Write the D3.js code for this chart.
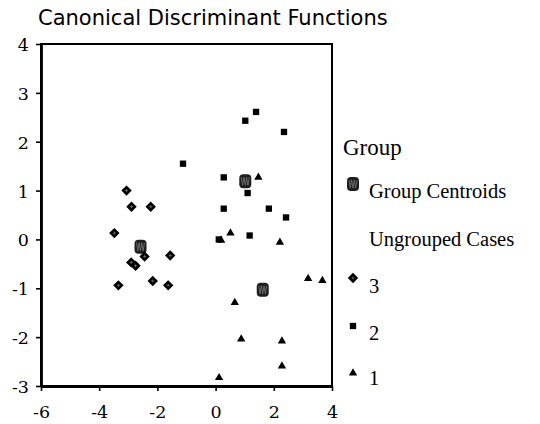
<!DOCTYPE html>
<html>
<head>
<meta charset="utf-8">
<script src="https://cdn.jsdelivr.net/npm/d3@7"></script>
<style>
  body { margin: 0; background: #fff; }
  svg { display: block; }
</style>
</head>
<body>
<svg id="chart" width="540" height="424"></svg>
<script>
// group 3 (diamonds)
const group3 = [
  [-3.06, 1.00], [-2.89, 0.67], [-2.23, 0.67], [-3.48, 0.13], [-2.44, -0.35],
  [-1.56, -0.33], [-2.90, -0.47], [-2.75, -0.54], [-3.34, -0.94], [-2.16, -0.85],
  [-1.63, -0.94]
]
// group 2 (squares)
const group2 = [
  [1.39, 2.61], [1.02, 2.43], [2.35, 2.20], [-1.12, 1.55], [0.28, 1.27],
  [1.10, 0.95], [0.28, 0.63], [1.83, 0.63], [2.42, 0.45], [0.11, 0.00],
  [1.17, 0.08]
]
// group 1 (triangles)
const group1 = [
  [1.47, 1.29], [0.51, 0.15], [0.19, 0.00], [2.21, -0.04], [3.18, -0.78],
  [3.67, -0.82], [0.66, -1.27], [0.88, -2.02], [2.28, -2.06], [2.28, -2.57],
  [0.12, -2.81]
]
const centroids = [[-2.58, -0.15], [1.02, 1.19], [1.62, -1.03]]

const xTicks = [-6, -4, -2, 0, 2, 4]
const yTicks = [-3, -2, -1, 0, 1, 2, 3, 4]
const legendItems = ["Group Centroids", "Ungrouped Cases", "3", "2", "1"]

const plotL = 41, plotR = 332, plotT = 44, plotB = 386
const serif = "Liberation Serif, Times New Roman, serif"

const svg = d3.select("#chart")

const xScale = d3.scaleLinear().domain([-6, 4]).range([plotL, plotR])
const yScale = d3.scaleLinear().domain([-3, 4]).range([plotB, plotT])

svg.append("text")
  .attr("x", 38).attr("y", 25)
  .attr("font-family", "DejaVu Sans")
  .attr("font-size", 21)
  .text("Canonical Discriminant Functions")

// frame (top/right)
svg.append("rect")
  .attr("x", plotL).attr("y", plotT)
  .attr("width", plotR - plotL).attr("height", plotB - plotT)
  .attr("fill", "none").attr("stroke", "#000").attr("stroke-width", 2)

const fmt = d => `${d}`  // plain hyphen like the original
const xAxis = svg.append("g")
  .attr("transform", `translate(0,${plotB})`)
  .call(d3.axisBottom(xScale).tickValues(xTicks).tickFormat(fmt).tickSize(5).tickPadding(9).tickSizeOuter(0))
const yAxis = svg.append("g")
  .attr("transform", `translate(${plotL},0)`)
  .call(d3.axisLeft(yScale).tickValues(yTicks).tickFormat(fmt).tickSize(5).tickPadding(7).tickSizeOuter(0))

for (const ax of [xAxis, yAxis]) {
  ax.attr("font-family", "DejaVu Serif").attr("font-size", 17.5)
  ax.select(".domain").attr("stroke-width", 2.8)
  ax.selectAll(".tick line").attr("stroke-width", 1.6)
  ax.selectAll(".tick text").attr("fill", "#000")
}
xAxis.selectAll(".tick text").attr("dy", "1em")
yAxis.selectAll(".tick text").attr("dy", "0.37em")

const diamond = d3.symbol().type(d3.symbolSquare).size(54)
const square = d3.symbol().type(d3.symbolSquare).size(40)
const triangle = d3.symbol().type(d3.symbolTriangle).size(30)

function drawDiamond(g, x, y) {
  g.append("path").attr("d", diamond())
    .attr("transform", `translate(${x},${y}) rotate(45)`).attr("fill", "#000")
  g.append("path").attr("d", `M${x - 1.5},${y}h3M${x},${y - 1.5}v3`)
    .attr("stroke", "#777").attr("stroke-width", 0.8)
}
function drawCentroid(g, x, y) {
  g.append("rect").attr("x", x - 6).attr("y", y - 7).attr("width", 12).attr("height", 14)
    .attr("rx", 4).attr("fill", "#1e1e1e")
  g.append("path")
    .attr("d", `M${x - 4},${y - 4}l1.3,8l1.3,-8l1.4,8l1.3,-8l1.3,8l1.4,-8`)
    .attr("fill", "none").attr("stroke", "#777").attr("stroke-width", 0.8)
}

const marks = svg.append("g")
centroids.forEach(d => drawCentroid(marks, xScale(d[0]), yScale(d[1])))
group3.forEach(d => drawDiamond(marks, xScale(d[0]), yScale(d[1])))
marks.selectAll(".sq").data(group2).enter().append("path")
  .attr("class", "sq").attr("d", square())
  .attr("transform", d => `translate(${xScale(d[0])},${yScale(d[1])})`)
marks.selectAll(".tri").data(group1).enter().append("path")
  .attr("class", "tri").attr("d", triangle())
  .attr("transform", d => `translate(${xScale(d[0])},${yScale(d[1]) + 1})`)

// legend
const legend = svg.append("g").attr("font-family", serif)
legend.append("text").attr("x", 343).attr("y", 155).attr("font-size", 23).text("Group")
const rowY = [198, 246, 293, 340, 385]
legend.selectAll(".lab").data(legendItems).enter().append("text")
  .attr("class", "lab")
  .attr("x", 369).attr("y", (d, i) => rowY[i])
  .attr("font-size", 20.5)
  .text(d => d)
drawCentroid(legend, 353, 184)
drawDiamond(legend, 353, 278)
legend.append("path").attr("d", square()).attr("transform", "translate(353,326)")
legend.append("path").attr("d", triangle()).attr("transform", "translate(353,373)")
</script>
</body>
</html>
